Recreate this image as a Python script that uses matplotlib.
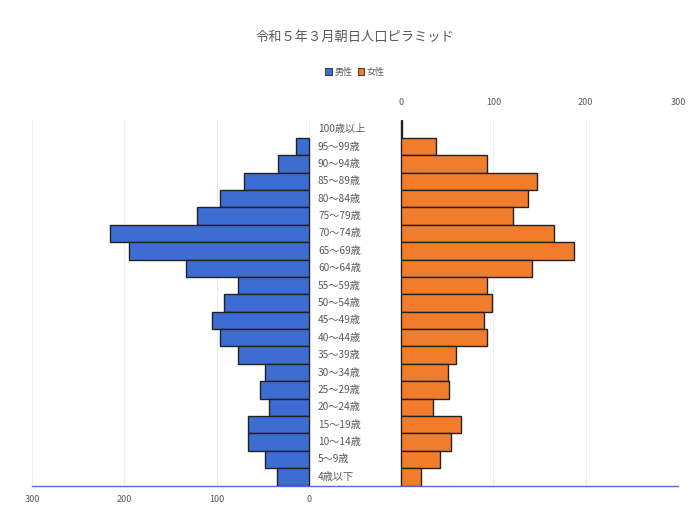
import matplotlib
matplotlib.use("Agg")
import matplotlib.pyplot as plt
from matplotlib.patches import Patch

plt.rcParams['font.family'] = ['Noto Sans CJK JP', 'DejaVu Sans']

# Age groups, oldest at the top
age_groups = ["100歳以上", "95～99歳", "90～94歳", "85～89歳", "80～84歳", "75～79歳",
              "70～74歳", "65～69歳", "60～64歳", "55～59歳", "50～54歳", "45～49歳",
              "40～44歳", "35～39歳", "30～34歳", "25～29歳", "20～24歳", "15～19歳",
              "10～14歳", "5～9歳", "4歳以下"]
male = [0, 14, 33, 70, 96, 121, 216, 195, 133, 77, 92, 105, 96, 77, 47, 53, 43, 66, 66, 47, 34]
female = [1, 38, 93, 147, 138, 121, 166, 187, 142, 93, 98, 90, 93, 59, 51, 52, 35, 65, 54, 42, 22]
axis_ticks = [0, 100, 200, 300]

W, H = 689, 511
fig = plt.figure(figsize=(W / 100, H / 100), dpi=100)
fig.patch.set_facecolor("white")

left, right, top, bottom = 32, 678, 120.5, 485.5
ax = fig.add_axes([left / W, 1 - bottom / H, (right - left) / W, (bottom - top) / H])
axm = ax.twiny()

n = len(age_groups)
ypos = [n - 1 - i for i in range(n)]
blue = "#3d6cd3"
orange = "#f07c2c"
edge = "#222222"
grey = "#595959"

ax.set_xlim(-400, 300)
axm.set_xlim(300, -400)
ax.set_ylim(-0.5, n - 0.5)

for a in (ax, axm):
    for x in axis_ticks:
        a.axvline(x, color="#ededed", lw=0.8, zorder=0)

ax.barh(ypos, female, height=1.0, color=orange, edgecolor=edge,
        linewidth=[1.0 if v else 0 for v in female], zorder=3)
axm.barh(ypos, male, height=1.0, color=blue, edgecolor=edge,
         linewidth=[1.0 if v else 0 for v in male], zorder=3)

# Female axis on top, male axis (reversed) at the bottom
ax.xaxis.set_ticks_position("top")
ax.xaxis.set_label_position("top")
ax.set_xticks(axis_ticks)
ax.set_xticklabels([str(t) for t in axis_ticks], fontsize=6.5, color=grey)
ax.tick_params(axis="x", length=0, pad=10)
axm.xaxis.set_ticks_position("bottom")
axm.xaxis.set_label_position("bottom")
axm.set_xticks(axis_ticks)
axm.set_xticklabels([str(t) for t in axis_ticks], fontsize=6.5, color=grey)
axm.tick_params(axis="x", length=0, pad=7)
for a in (ax, axm):
    a.set_yticks([])
    for s in a.spines.values():
        s.set_visible(False)
axm.spines["bottom"].set_visible(True)
axm.spines["bottom"].set_color("#5b64d6")
axm.spines["bottom"].set_linewidth(1.0)

# Age labels in the gap between the two halves
label_x = (318 - left) / (right - left)
for y, lab in zip(ypos, age_groups):
    ax.text(label_x, y, lab, transform=ax.get_yaxis_transform(), ha="left", va="center",
            fontsize=7.3, color=grey, zorder=5)

fig.text(355 / W, 1 - 37 / H, "令和５年３月朝日人口ピラミッド", ha="center", va="center",
         fontsize=9.5, color=grey)
handles = [Patch(facecolor=blue, edgecolor=edge, linewidth=0.6, label="男性"),
           Patch(facecolor=orange, edgecolor=edge, linewidth=0.6, label="女性")]
fig.legend(handles=handles, loc="center", bbox_to_anchor=(355 / W, 1 - 72 / H), ncol=2,
           frameon=False, fontsize=6.5, handlelength=0.7, handleheight=0.7,
           handletextpad=0.3, columnspacing=0.6, labelcolor=grey)

fig.savefig("out.png", dpi=100, facecolor="white")
